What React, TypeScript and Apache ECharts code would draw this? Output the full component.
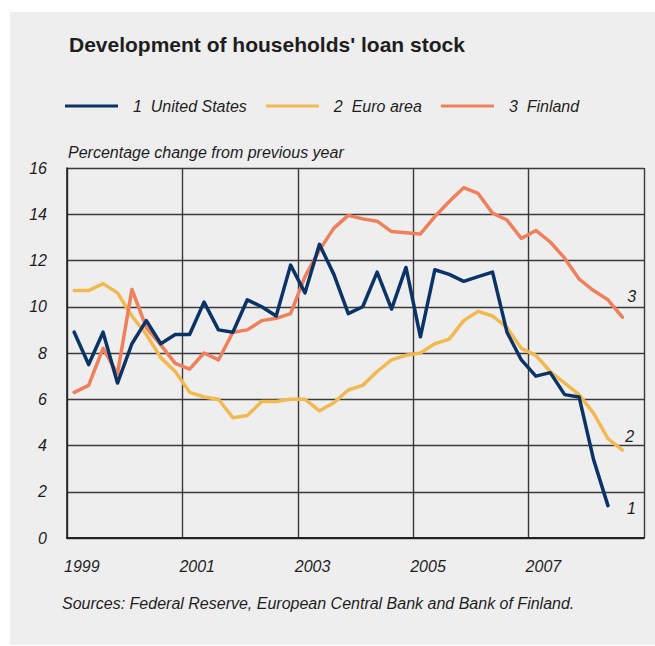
import React, { useEffect, useRef } from "react";
import * as echarts from "echarts";

// Quarterly data, first quarter = 1999 Q1 (plotted at mid-quarter)
const firstYear = 1999;
const seriesNames = ["1  United States", "2  Euro area", "3  Finland"];
const yTicks = [0, 2, 4, 6, 8, 10, 12, 14, 16];

const usGrowth = [
  8.9, 7.5, 8.9, 6.7, 8.4, 9.4, 8.4, 8.8,
  8.8, 10.2, 9.0, 8.9, 10.3, 10.0, 9.6, 11.8,
  10.6, 12.7, 11.4, 9.7, 10.0, 11.5, 9.9, 11.7,
  8.7, 11.6, 11.4, 11.1, 11.3, 11.5, 8.9, 7.7,
  7.0, 7.15, 6.2, 6.1, 3.4, 1.4,
];
const euroGrowth = [
  10.7, 10.7, 11.0, 10.6, 9.6, 8.8, 7.8, 7.2,
  6.3, 6.1, 6.0, 5.2, 5.3, 5.9, 5.9, 6.0,
  6.0, 5.5, 5.85, 6.4, 6.6, 7.2, 7.7, 7.9,
  8.0, 8.4, 8.6, 9.4, 9.8, 9.6, 9.1, 8.2,
  7.9, 7.2, 6.7, 6.2, 5.4, 4.3, 3.8,
];
const finlandGrowth = [
  6.3, 6.6, 8.2, 7.1, 10.75, 9.1, 8.35, 7.55,
  7.3, 8.0, 7.7, 8.9, 9.0, 9.4, 9.5, 9.7,
  11.3, 12.45, 13.4, 13.95, 13.8, 13.7, 13.25, 13.2,
  13.15, 13.9, 14.55, 15.15, 14.9, 14.05, 13.75, 12.95,
  13.3, 12.8, 12.1, 11.2, 10.7, 10.3, 9.55,
];

const colors = ["#0b3366", "#f1b94f", "#f07f5c"];
const FONT = "Liberation Sans, Arial, sans-serif";
const TEXT = "#1e1e1e";

// x position in years since 1999, at mid-quarter
const toPoints = (vals: number[]) => vals.map((v, i) => [(i + 0.5) / 4, v]);

export default function App() {
  const ref = useRef<HTMLDivElement>(null);
  useEffect(() => {
    if (!ref.current) return;
    const chart = echarts.init(ref.current, undefined, { renderer: "svg" });
    const endOffsets = [[11, 3], [-5, -14], [-3, -21]];
    const endTexts = ["1", "2", "3"];
    const all = [usGrowth, euroGrowth, finlandGrowth];
    chart.setOption({
      animation: false,
      backgroundColor: "#ffffff",
      textStyle: { fontFamily: FONT },
      graphic: [
        {
          type: "rect",
          z: -10,
          shape: { x: 10, y: 12, width: 645, height: 633 },
          style: { fill: "#eeeeee" },
          silent: true,
        },
        {
          type: "text",
          x: 68,
          y: 144,
          style: {
            text: "Percentage change from previous year",
            fontFamily: FONT,
            fontSize: 16,
            fontStyle: "italic",
            fill: TEXT,
          },
        },
        {
          type: "text",
          x: 62,
          y: 595,
          style: {
            text: "Sources: Federal Reserve, European Central Bank and Bank of Finland.",
            fontFamily: FONT,
            fontSize: 16,
            fontStyle: "italic",
            fill: TEXT,
          },
        },
      ],
      title: {
        text: "Development of households' loan stock",
        left: 69,
        top: 34,
        padding: 0,
        textStyle: { fontFamily: FONT, fontSize: 21, fontWeight: "bold", color: TEXT },
      },
      legend: {
        left: 65,
        top: 98,
        padding: 0,
        itemWidth: 53,
        itemHeight: 3,
        itemGap: 19,
        icon: "rect",
        data: seriesNames,
        textStyle: {
          fontFamily: FONT,
          fontSize: 16,
          fontStyle: "italic",
          color: TEXT,
          padding: [0, 0, 0, 10],
        },
      },
      grid: { left: 67, right: 11, top: 168, bottom: 108, containLabel: false },
      xAxis: {
        type: "value",
        min: 0,
        max: 10,
        interval: 2,
        axisLine: { show: true, onZero: false, lineStyle: { color: "#222", width: 2 } },
        axisTick: { show: false },
        splitLine: { show: true, lineStyle: { color: "#3a3a3a", width: 1.4 } },
        axisLabel: {
          formatter: (v: number) => (v < 10 ? String(firstYear + v) : ""),
          align: "left",
          margin: 20,
          fontFamily: FONT,
          fontSize: 16,
          fontStyle: "italic",
          color: TEXT,
          padding: [0, 0, 0, -3],
        },
      },
      yAxis: {
        type: "value",
        min: yTicks[0],
        max: yTicks[yTicks.length - 1],
        interval: 2,
        axisLine: { show: true, lineStyle: { color: "#222", width: 1.6 } },
        axisTick: { show: false },
        splitLine: { show: true, lineStyle: { color: "#3a3a3a", width: 1.4 } },
        axisLabel: {
          margin: 20,
          fontFamily: FONT,
          fontSize: 16,
          fontStyle: "italic",
          color: TEXT,
        },
      },
      series: all.map((vals, k) => ({
        name: seriesNames[k],
        type: "line",
        data: toPoints(vals),
        showSymbol: false,
        symbol: "none",
        color: colors[k],
        lineStyle: { color: colors[k], width: 3.5, join: "round", cap: "round" },
        endLabel: {
          show: true,
          formatter: endTexts[k],
          offset: endOffsets[k],
          fontFamily: FONT,
          fontSize: 16,
          fontStyle: "italic",
          color: TEXT,
        },
        z: 3 + (k === 0 ? 2 : k === 1 ? 0 : 1),
      })),
    });
    return () => chart.dispose();
  }, []);
  return (
    <div
      ref={ref}
      style={{ position: "absolute", left: 0, top: 0, width: 655, height: 646 }}
    />
  );
}
